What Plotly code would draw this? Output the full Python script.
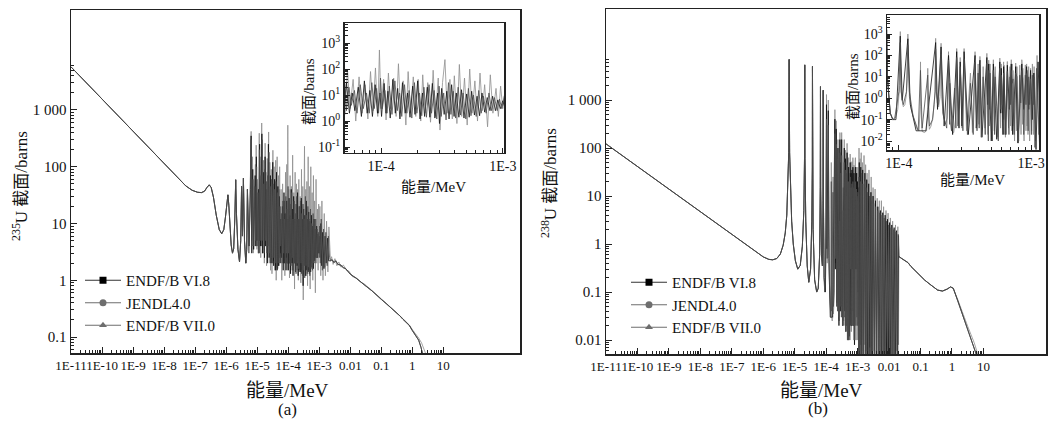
import plotly.graph_objects as go

W, H = 1054, 422
FONT = "Liberation Serif, Noto Sans CJK SC, serif"

# ---------------- data: U-235 (panel a), energy in MeV, cross section in barns
u235_low = [(1e-11, 5750), (2e-11, 3870), (5e-11, 2300), (1e-10, 1550), (2e-10, 1045), (5e-10, 620),
            (1e-9, 417), (2e-9, 281), (5e-9, 167), (1e-8, 112), (2e-8, 76), (5e-8, 46), (8e-8, 38.5),
            (1.2e-7, 35.5), (1.6e-7, 35), (2.0e-7, 37), (2.4e-7, 43), (2.85e-7, 48), (3.3e-7, 43),
            (3.9e-7, 29), (4.8e-7, 14), (6e-7, 7.8), (7.2e-7, 6.6), (8.4e-7, 7.8), (9.5e-7, 13),
            (1.05e-6, 22), (1.14e-6, 32), (1.22e-6, 21), (1.32e-6, 9), (1.45e-6, 4.2), (1.6e-6, 3.0),
            (1.75e-6, 3.6), (1.9e-6, 12), (2.03e-6, 59), (2.15e-6, 15), (2.4e-6, 3.5), (2.7e-6, 2.1),
            (2.95e-6, 5), (3.14e-6, 45), (3.35e-6, 6), (3.6e-6, 63), (3.9e-6, 5), (4.3e-6, 2.0),
            (4.6e-6, 3.5), (4.85e-6, 40), (5.2e-6, 4)]

u235_res_b = [(5.6e-6, 6), (6.2e-6, 90), (6.39e-6, 420), (6.6e-6, 5), (7.08e-6, 150), (7.5e-6, 3), (8.1e-6, 30),
              (8.78e-6, 110), (9.0e-6, 4), (9.28e-6, 240), (9.8e-6, 3.5), (1.02e-5, 60), (1.08e-5, 3),
              (1.166e-5, 390), (1.2e-5, 5), (1.239e-5, 150), (1.3e-5, 2.5), (1.4e-5, 590), (1.48e-5, 3),
              (1.61e-5, 130), (1.7e-5, 2), (1.805e-5, 260), (1.9e-5, 4), (1.93e-5, 80), (2.01e-5, 1.8),
              (2.11e-5, 140), (2.2e-5, 3), (2.34e-5, 410), (2.45e-5, 2), (2.56e-5, 120), (2.7e-5, 1.5),
              (2.84e-5, 90), (3.0e-5, 1.3), (3.21e-5, 195), (3.35e-5, 2.2), (3.52e-5, 100), (3.7e-5, 1.5),
              (3.94e-5, 130), (4.1e-5, 1.0), (4.4e-5, 150), (4.6e-5, 1.6), (4.85e-5, 70), (5.05e-5, 1.8),
              (5.3e-5, 100), (5.55e-5, 3), (5.9e-5, 40), (6.2e-5, 1.0), (6.6e-5, 50), (7.0e-5, 2),
              (7.4e-5, 25), (7.8e-5, 1.2), (8.2e-5, 80), (8.6e-5, 2.5), (9.0e-5, 110), (9.4e-5, 1.5),
              (9.7e-5, 540), (1.0e-4, 3), (1.05e-4, 40), (1.1e-4, 1.1), (1.15e-4, 70), (1.2e-4, 3),
              (1.27e-4, 45), (1.33e-4, 1.5), (1.39e-4, 160), (1.45e-4, 2), (1.52e-4, 35), (1.6e-4, 0.7),
              (1.67e-4, 80), (1.75e-4, 2), (1.84e-4, 50), (1.93e-4, 1.5), (2.02e-4, 40), (2.12e-4, 1),
              (2.2e-4, 60), (2.3e-4, 2), (2.42e-4, 30), (2.55e-4, 0.9), (2.68e-4, 90), (2.8e-4, 1.5),
              (2.95e-4, 45), (3.05e-4, 0.45), (3.2e-4, 30), (3.35e-4, 230), (3.5e-4, 2), (3.68e-4, 40),
              (3.85e-4, 1.2), (4.0e-4, 55), (4.2e-4, 0.8), (4.4e-4, 150), (4.6e-4, 1.5), (4.85e-4, 45),
              (5.1e-4, 0.7), (5.35e-4, 100), (5.6e-4, 2), (5.9e-4, 35), (6.2e-4, 1), (6.5e-4, 70),
              (6.8e-4, 2.5), (7.1e-4, 25), (7.5e-4, 0.6), (7.9e-4, 60), (8.3e-4, 2), (8.8e-4, 18),
              (9.2e-4, 1.5), (9.6e-4, 22), (1.0e-3, 3), (1.05e-3, 20), (1.12e-3, 1.2), (1.22e-3, 25),
              (1.32e-3, 1.0), (1.45e-3, 15), (1.58e-3, 1.2), (1.72e-3, 11), (1.9e-3, 1.4), (2.05e-3, 8.7)]

u235_res_c = [(5.4e-6, 3), (5.9e-6, 25), (6.39e-6, 300), (6.8e-6, 4), (7.3e-6, 60), (7.8e-6, 4), (8.4e-6, 45),
              (9.0e-6, 5), (9.6e-6, 100), (1.0e-5, 4), (1.06e-5, 35), (1.12e-5, 3), (1.18e-5, 200),
              (1.25e-5, 5), (1.33e-5, 70), (1.38e-5, 4), (1.45e-5, 300), (1.53e-5, 5), (1.58e-5, 50),
              (1.66e-5, 3), (1.75e-5, 90), (1.85e-5, 5), (1.98e-5, 55), (2.06e-5, 3), (2.17e-5, 70),
              (2.28e-5, 4), (2.4e-5, 180), (2.5e-5, 3), (2.62e-5, 45), (2.76e-5, 2.5), (2.92e-5, 60),
              (3.1e-5, 2), (3.3e-5, 50), (3.45e-5, 2.5), (3.6e-5, 40), (3.8e-5, 2), (4.0e-5, 55),
              (4.25e-5, 1.7), (4.5e-5, 35), (4.75e-5, 2), (5.0e-5, 40), (5.2e-5, 2.5), (5.45e-5, 20),
              (5.7e-5, 4), (6.05e-5, 15), (6.35e-5, 2), (6.75e-5, 25), (7.15e-5, 3), (7.6e-5, 12),
              (8.0e-5, 2), (8.4e-5, 30), (8.8e-5, 3), (9.2e-5, 18), (9.55e-5, 2), (9.9e-5, 45),
              (1.025e-4, 3), (1.075e-4, 15), (1.12e-4, 2), (1.17e-4, 22), (1.23e-4, 1.8), (1.3e-4, 35),
              (1.36e-4, 2.5), (1.42e-4, 12), (1.48e-4, 1.5), (1.56e-4, 25), (1.63e-4, 2), (1.7e-4, 15),
              (1.79e-4, 1.3), (1.88e-4, 30), (1.97e-4, 2), (2.07e-4, 12), (2.16e-4, 1.6), (2.25e-4, 20),
              (2.36e-4, 1.4), (2.48e-4, 25), (2.6e-4, 2), (2.73e-4, 15), (2.87e-4, 1.2), (3.0e-4, 22),
              (3.12e-4, 1.5), (3.27e-4, 12), (3.42e-4, 1.1), (3.58e-4, 30), (3.75e-4, 1.8), (3.92e-4, 14),
              (4.1e-4, 1.3), (4.3e-4, 20), (4.5e-4, 1.7), (4.72e-4, 12), (4.97e-4, 1.2), (5.22e-4, 18),
              (5.48e-4, 1.6), (5.75e-4, 10), (6.05e-4, 1.5), (6.35e-4, 15), (6.65e-4, 2), (6.95e-4, 9),
              (7.3e-4, 2), (7.7e-4, 12), (8.1e-4, 2.5), (8.55e-4, 8), (9.0e-4, 2.5), (9.4e-4, 7),
              (9.8e-4, 3), (1.03e-3, 9), (1.08e-3, 2), (1.16e-3, 12), (1.26e-3, 1.5), (1.38e-3, 8),
              (1.5e-3, 1.7), (1.64e-3, 7), (1.8e-3, 1.8), (1.97e-3, 6), (2.15e-3, 2.5)]

u235_res_a = [(5.5e-6, 4), (6.1e-6, 40), (6.39e-6, 350), (6.7e-6, 3), (7.2e-6, 90), (7.7e-6, 3.5), (8.6e-6, 70),
              (9.1e-6, 4), (9.4e-6, 150), (9.9e-6, 5), (1.1e-5, 40), (1.15e-5, 3), (1.2e-5, 250),
              (1.27e-5, 4), (1.35e-5, 40), (1.42e-5, 380), (1.5e-5, 3), (1.64e-5, 80), (1.72e-5, 2.5),
              (1.8e-5, 150), (1.88e-5, 4), (2.03e-5, 40), (2.14e-5, 2), (2.3e-5, 250), (2.42e-5, 2.5),
              (2.66e-5, 70), (2.8e-5, 2), (3.0e-5, 40), (3.18e-5, 120), (3.4e-5, 1.8), (3.65e-5, 60),
              (3.88e-5, 1.5), (4.2e-5, 80), (4.4e-5, 1.5), (4.65e-5, 45), (4.9e-5, 1.8), (5.2e-5, 30),
              (5.5e-5, 2), (5.8e-5, 12), (6.1e-5, 2.5), (6.5e-5, 20), (6.9e-5, 1.5), (7.3e-5, 35),
              (7.7e-5, 2), (8.1e-5, 15), (8.5e-5, 1.5), (8.95e-5, 25), (9.35e-5, 2), (9.8e-5, 12),
              (1.01e-4, 1.5), (1.06e-4, 28), (1.1e-4, 2), (1.14e-4, 14), (1.19e-4, 1.3), (1.25e-4, 40),
              (1.31e-4, 2), (1.37e-4, 18), (1.43e-4, 1.2), (1.5e-4, 30), (1.58e-4, 2), (1.65e-4, 12),
              (1.73e-4, 1.4), (1.82e-4, 22), (1.9e-4, 1.8), (2.0e-4, 35), (2.09e-4, 1.2), (2.19e-4, 12),
              (2.28e-4, 1.5), (2.4e-4, 20), (2.52e-4, 1.4), (2.64e-4, 28), (2.77e-4, 1.3), (2.92e-4, 12),
              (3.02e-4, 0.8), (3.15e-4, 18), (3.3e-4, 1.8), (3.47e-4, 14), (3.62e-4, 1.2), (3.8e-4, 25),
              (3.98e-4, 1.5), (4.15e-4, 12), (4.36e-4, 1.4), (4.58e-4, 16), (4.8e-4, 1.3), (5.05e-4, 11),
              (5.3e-4, 1.4), (5.55e-4, 14), (5.85e-4, 1.7), (6.15e-4, 9), (6.45e-4, 1.6), (6.75e-4, 12),
              (7.1e-4, 2.2), (7.45e-4, 8), (7.85e-4, 2.5), (8.25e-4, 9), (8.7e-4, 2.5), (9.1e-4, 6.5),
              (9.55e-4, 3), (1.0e-3, 6), (1.06e-3, 2.5), (1.13e-3, 10), (1.2e-3, 1.8), (1.3e-3, 7),
              (1.42e-3, 1.6), (1.55e-3, 6), (1.68e-3, 2), (1.85e-3, 5.5), (2.0e-3, 2.2)]

u235_tail_a = [(2.3e-3, 2.2), (2.6e-3, 2.3), (3e-3, 2.05), (3.4e-3, 2.2), (4e-3, 1.9), (5e-3, 1.85), (6e-3, 1.65),
               (7e-3, 1.62), (8.5e-3, 1.4), (1e-2, 1.28), (1.5e-2, 1.1), (2e-2, 0.98), (3e-2, 0.81),
               (5e-2, 0.65), (7e-2, 0.54), (1e-1, 0.46), (1.5e-1, 0.38), (2e-1, 0.33), (3e-1, 0.275),
               (4e-1, 0.235), (5e-1, 0.205), (6e-1, 0.185), (8e-1, 0.16), (1.0, 0.13), (1.3, 0.105),
               (1.6, 0.088), (1.9, 0.066), (2.15, 0.05)]
u235_tail_b = [(2.3e-3, 2.2), (2.5e-3, 2.6), (2.8e-3, 1.9), (3.2e-3, 2.4), (3.7e-3, 1.8), (4.3e-3, 2.1),
               (5e-3, 1.7), (6e-3, 1.85), (7.5e-3, 1.5), (9e-3, 1.45), (1.2e-2, 1.15), (1.6e-2, 1.1),
               (2.2e-2, 0.93), (3e-2, 0.84), (5e-2, 0.66), (7e-2, 0.55), (1e-1, 0.47), (1.5e-1, 0.385),
               (2e-1, 0.335), (3e-1, 0.28), (4e-1, 0.24), (5e-1, 0.21), (6e-1, 0.19), (8e-1, 0.163),
               (1.0, 0.135), (1.3, 0.112), (1.6, 0.096), (2.0, 0.078), (2.4, 0.062), (2.8, 0.048)]

# ---------------- data: U-238 (panel b)
u238_low = [(1e-11, 122), (2e-11, 88), (5e-11, 57), (1e-10, 41), (2e-10, 30), (5e-10, 19.5), (1e-9, 14),
            (2e-9, 10), (5e-9, 6.5), (1e-8, 4.7), (2e-8, 3.4), (5e-8, 2.2), (1e-7, 1.6), (2e-7, 1.15),
            (4e-7, 0.82), (7e-7, 0.63), (1e-6, 0.54), (1.5e-6, 0.48), (2e-6, 0.47), (2.7e-6, 0.5),
            (3.5e-6, 0.62), (4.3e-6, 0.95), (5.0e-6, 1.7), (5.6e-6, 4), (6.1e-6, 15), (6.45e-6, 80),
            (6.6e-6, 1200), (6.67e-6, 7000), (6.74e-6, 1200), (6.9e-6, 80), (7.3e-6, 15), (8.0e-6, 3),
            (9.0e-6, 1.0), (1.05e-5, 0.45), (1.25e-5, 0.3), (1.5e-5, 0.36), (1.75e-5, 0.9), (1.95e-5, 5),
            (2.05e-5, 60), (2.087e-5, 5400), (2.12e-5, 60), (2.25e-5, 3), (2.5e-5, 0.35), (2.8e-5, 0.16),
            (3.2e-5, 0.3), (3.5e-5, 3), (3.63e-5, 40), (3.668e-5, 5000), (3.71e-5, 40), (3.85e-5, 2),
            (4.3e-5, 0.18), (5.0e-5, 0.1), (5.6e-5, 0.12), (6.2e-5, 0.6), (6.5e-5, 15), (6.6e-5, 1900),
            (6.7e-5, 15), (7.1e-5, 0.6), (7.6e-5, 0.35), (7.95e-5, 8), (8.07e-5, 1600), (8.2e-5, 8),
            (8.6e-5, 0.2), (9.0e-5, 0.1)]

u238_res_b = [(9.4e-5, 0.12), (9.8e-5, 0.3), (1.0e-4, 1.0), (1.015e-4, 4), (1.022e-4, 30), (1.025e-4, 1300),
              (1.028e-4, 30), (1.035e-4, 4), (1.05e-4, 1.0), (1.08e-4, 0.4), (1.11e-4, 0.5), (1.14e-4, 1.5),
              (1.16e-4, 8), (1.169e-4, 1000), (1.18e-4, 8), (1.2e-4, 1.2), (1.24e-4, 0.3), (1.3e-4, 0.09),
              (1.36e-4, 0.04), (1.42e-4, 0.03), (1.45e-4, 0.4), (1.457e-4, 50), (1.465e-4, 0.4), (1.5e-4, 0.028),
              (1.56e-4, 0.025), (1.62e-4, 0.03), (1.645e-4, 0.3), (1.653e-4, 25), (1.66e-4, 0.3), (1.7e-4, 0.035),
              (1.75e-4, 0.05), (1.8e-4, 0.12), (1.85e-4, 0.5), (1.88e-4, 2.5), (1.897e-4, 630), (1.91e-4, 2.5),
              (1.95e-4, 0.6), (2.0e-4, 0.4), (2.05e-4, 1.2), (2.085e-4, 370), (2.11e-4, 1.0), (2.17e-4, 0.15),
              (2.25e-4, 0.06), (2.32e-4, 0.12), (2.374e-4, 150), (2.42e-4, 0.12), (2.5e-4, 0.03),
              (2.6e-4, 0.025), (2.68e-4, 0.1), (2.737e-4, 210), (2.79e-4, 0.1), (2.82e-4, 0.06), (2.91e-4, 80),
              (3.0e-4, 0.04), (3.114e-4, 210), (3.25e-4, 0.03), (3.478e-4, 15), (3.6e-4, 0.025), (3.769e-4, 150),
              (3.88e-4, 0.05), (3.976e-4, 40), (4.03e-4, 0.06), (4.103e-4, 90), (4.22e-4, 0.02),
              (4.34e-4, 30), (4.48e-4, 0.04), (4.63e-4, 125), (4.72e-4, 0.02), (4.783e-4, 60),
              (4.85e-4, 0.05), (4.895e-4, 40), (5.05e-4, 0.012), (5.184e-4, 63), (5.27e-4, 0.03),
              (5.354e-4, 30), (5.6e-4, 0.015), (5.802e-4, 75), (5.88e-4, 0.04), (5.951e-4, 40),
              (6.1e-4, 0.02), (6.199e-4, 50), (6.22e-4, 0.1), (6.249e-4, 35), (6.4e-4, 0.015),
              (6.613e-4, 52), (6.75e-4, 0.04), (6.931e-4, 30), (7.0e-4, 0.05), (7.084e-4, 63),
              (7.15e-4, 0.03), (7.209e-4, 40), (7.26e-4, 0.05), (7.301e-4, 20), (7.5e-4, 0.01),
              (7.651e-4, 44), (7.74e-4, 0.03), (7.821e-4, 30), (8.0e-4, 0.008), (8.213e-4, 35),
              (8.4e-4, 0.02), (8.51e-4, 63), (8.535e-4, 0.3), (8.561e-4, 40), (8.62e-4, 0.06),
              (8.665e-4, 25), (8.85e-4, 0.01), (9.05e-4, 36), (9.15e-4, 0.03), (9.252e-4, 40),
              (9.31e-4, 0.05), (9.37e-4, 20), (9.48e-4, 0.02), (9.587e-4, 30), (9.75e-4, 0.01),
              (9.917e-4, 25), (1.01e-3, 0.03), (1.0235e-3, 40), (1.04e-3, 0.02), (1.0545e-3, 30),
              (1.08e-3, 0.01), (1.11e-3, 100), (1.14e-3, 0.02), (1.2e-3, 60), (1.25e-3, 0.008),
              (1.3e-3, 80), (1.36e-3, 0.01), (1.42e-3, 50), (1.5e-3, 0.006), (1.6e-3, 70), (1.7e-3, 0.008),
              (1.8e-3, 45), (1.9e-3, 0.006), (2.0e-3, 30), (2.15e-3, 0.005), (2.3e-3, 35), (2.5e-3, 0.007),
              (2.7e-3, 25), (2.9e-3, 0.005), (3.1e-3, 15), (3.35e-3, 0.006), (3.6e-3, 14), (3.9e-3, 0.004),
              (4.2e-3, 9), (4.5e-3, 0.005), (4.9e-3, 8), (5.3e-3, 0.004), (5.7e-3, 8), (6.2e-3, 0.005),
              (6.7e-3, 6), (7.3e-3, 0.004), (8.0e-3, 5), (8.7e-3, 0.006), (9.3e-3, 4.4), (1.0e-2, 0.005),
              (1.1e-2, 3.5), (1.2e-2, 0.004), (1.3e-2, 3), (1.45e-2, 0.005), (1.6e-2, 2.5), (1.75e-2, 0.006),
              (1.9e-2, 2.3), (2.0e-2, 0.008)]

u238_res_c = [(9.3e-5, 0.12), (1.0e-4, 2), (1.023e-4, 400), (1.04e-4, 2), (1.08e-4, 0.5), (1.14e-4, 2),
              (1.168e-4, 300), (1.2e-4, 2), (1.28e-4, 0.15), (1.4e-4, 0.03), (1.456e-4, 20), (1.5e-4, 0.04),
              (1.652e-4, 12), (1.7e-4, 0.05), (1.8e-4, 0.1), (1.88e-4, 2), (1.896e-4, 200), (1.92e-4, 2),
              (1.98e-4, 0.5), (2.084e-4, 120), (2.15e-4, 0.2), (2.3e-4, 0.04), (2.373e-4, 60), (2.42e-4, 0.06),
              (2.427e-4, 5), (2.5e-4, 0.03), (2.639e-4, 3), (2.7e-4, 0.04), (2.736e-4, 80), (2.8e-4, 0.05),
              (2.91e-4, 30), (3.05e-4, 0.03), (3.113e-4, 70), (3.3e-4, 0.02), (3.477e-4, 5), (3.65e-4, 0.02),
              (3.768e-4, 50), (3.9e-4, 0.03), (3.975e-4, 15), (4.05e-4, 0.04), (4.102e-4, 35), (4.2e-4, 0.015),
              (4.339e-4, 10), (4.5e-4, 0.02), (4.629e-4, 45), (4.75e-4, 0.01), (4.782e-4, 20), (4.86e-4, 0.3),
              (4.894e-4, 15), (5.1e-4, 0.01), (5.183e-4, 20), (5.3e-4, 0.02), (5.353e-4, 10), (5.5e-4, 0.4),
              (5.65e-4, 0.01), (5.801e-4, 25), (5.9e-4, 0.3), (5.95e-4, 12), (6.05e-4, 0.5), (6.198e-4, 15),
              (6.248e-4, 10), (6.35e-4, 0.02), (6.5e-4, 1.0), (6.612e-4, 18), (6.653e-4, 2), (6.8e-4, 0.02),
              (6.93e-4, 10), (7.0e-4, 0.5), (7.083e-4, 20), (7.2e-4, 5), (7.3e-4, 8), (7.45e-4, 0.02),
              (7.55e-4, 0.8), (7.65e-4, 15), (7.82e-4, 10), (7.9e-4, 0.5), (8.05e-4, 0.01), (8.212e-4, 12),
              (8.35e-4, 0.6), (8.51e-4, 20), (8.56e-4, 12), (8.66e-4, 8), (8.8e-4, 0.02), (8.95e-4, 1),
              (9.05e-4, 12), (9.15e-4, 0.5), (9.25e-4, 14), (9.37e-4, 6), (9.5e-4, 0.03), (9.6e-4, 10),
              (9.75e-4, 0.5), (9.9e-4, 8), (1.005e-3, 0.02), (1.023e-3, 12), (1.04e-3, 0.5), (1.054e-3, 10),
              (1.07e-3, 0.005), (1.1e-3, 25), (1.16e-3, 0.006), (1.23e-3, 20), (1.28e-3, 0.004), (1.34e-3, 30),
              (1.4e-3, 0.005), (1.47e-3, 18), (1.55e-3, 0.004), (1.65e-3, 20), (1.75e-3, 0.003), (1.85e-3, 15),
              (1.95e-3, 0.004), (2.08e-3, 12), (2.2e-3, 0.003), (2.4e-3, 10), (2.6e-3, 0.004), (2.8e-3, 8),
              (3.0e-3, 0.003), (3.25e-3, 7), (3.5e-3, 0.004), (3.75e-3, 6), (4.05e-3, 0.003), (4.35e-3, 5),
              (4.7e-3, 0.004), (5.1e-3, 4.5), (5.5e-3, 0.003), (5.95e-3, 4), (6.45e-3, 0.004), (7.0e-3, 3.5),
              (7.6e-3, 0.003), (8.3e-3, 3), (9.0e-3, 0.004), (9.7e-3, 2.5), (1.05e-2, 0.003), (1.15e-2, 2.2),
              (1.25e-2, 0.004), (1.38e-2, 2), (1.5e-2, 0.003), (1.65e-2, 1.8), (1.8e-2, 0.004), (1.95e-2, 1.6)]

u238_res_a = [(9.5e-5, 0.1), (1.024e-4, 800), (1.06e-4, 0.8), (1.169e-4, 600), (1.22e-4, 0.5), (1.35e-4, 0.03),
              (1.6e-4, 0.03), (1.897e-4, 400), (1.96e-4, 0.3), (2.085e-4, 250), (2.2e-4, 0.05), (2.374e-4, 100),
              (2.55e-4, 0.02), (2.737e-4, 150), (2.85e-4, 0.04), (2.91e-4, 50), (3.0e-4, 0.05), (3.114e-4, 150),
              (3.35e-4, 0.02), (3.769e-4, 100), (3.85e-4, 0.04), (4.103e-4, 60), (4.25e-4, 0.015), (4.63e-4, 80),
              (4.7e-4, 0.5), (4.783e-4, 40), (4.9e-4, 0.5), (5.0e-4, 0.01), (5.184e-4, 40), (5.5e-4, 0.012),
              (5.802e-4, 50), (5.9e-4, 0.2), (5.951e-4, 25), (6.15e-4, 0.02), (6.199e-4, 30), (6.45e-4, 0.02),
              (6.613e-4, 35), (6.85e-4, 0.3), (7.084e-4, 40), (7.25e-4, 0.02), (7.651e-4, 30), (7.95e-4, 0.008),
              (8.51e-4, 40), (8.8e-4, 0.3), (9.252e-4, 30), (9.6e-4, 0.3), (9.917e-4, 20), (1.02e-3, 0.1),
              (1.05e-3, 15), (1.09e-3, 0.004), (1.13e-3, 50), (1.18e-3, 0.005), (1.26e-3, 40), (1.32e-3, 0.004),
              (1.45e-3, 35), (1.52e-3, 0.005), (1.7e-3, 30), (1.78e-3, 0.003), (1.95e-3, 22), (2.05e-3, 0.004),
              (2.25e-3, 18), (2.45e-3, 0.003), (2.65e-3, 12), (2.85e-3, 0.004), (3.1e-3, 10), (3.4e-3, 0.003),
              (3.7e-3, 8), (4.0e-3, 0.003), (4.4e-3, 6), (4.8e-3, 0.004), (5.3e-3, 5), (5.8e-3, 0.003),
              (6.3e-3, 4.5), (6.9e-3, 0.004), (7.5e-3, 4), (8.2e-3, 0.003), (8.9e-3, 3.3), (9.6e-3, 0.004),
              (1.04e-2, 2.8), (1.13e-2, 0.003), (1.22e-2, 2.5), (1.33e-2, 0.004), (1.45e-2, 2.2),
              (1.58e-2, 0.003), (1.72e-2, 1.9), (1.88e-2, 0.004), (2.0e-2, 1.5)]

u238_tail_a = [(2.05e-2, 0.55), (2.5e-2, 0.5), (3e-2, 0.46), (4e-2, 0.41), (5e-2, 0.34), (7e-2, 0.27),
               (1e-1, 0.21), (1.35e-1, 0.178), (2e-1, 0.145), (3e-1, 0.12), (3.5e-1, 0.11), (5e-1, 0.105),
               (7e-1, 0.115), (9e-1, 0.128), (1.1, 0.12), (1.5, 0.068), (2.0, 0.04), (3.2, 0.016),
               (5.1, 0.0072), (6.3, 0.0045)]
u238_tail_b = [(2.05e-2, 0.55), (2.5e-2, 0.5), (3e-2, 0.46), (4e-2, 0.41), (5e-2, 0.34), (7e-2, 0.27),
               (1e-1, 0.21), (1.35e-1, 0.178), (2e-1, 0.145), (3e-1, 0.12), (3.5e-1, 0.11), (5e-1, 0.105),
               (7e-1, 0.115), (9e-1, 0.128), (1.1, 0.12), (1.5, 0.072), (2.0, 0.045), (3.2, 0.019),
               (5.1, 0.0088), (7.0, 0.0045)]

series_names = ["ENDF/B VI.8", "JENDL4.0", "ENDF/B VII.0"]
series_colors = ["#111111", "#8e8e8e", "#4d4d4d"]
series_symbols = ["square", "circle", "triangle-up"]

main_xticks = [1e-11, 1e-10, 1e-9, 1e-8, 1e-7, 1e-6, 1e-5, 1e-4, 1e-3, 1e-2, 1e-1, 1, 10]
main_xtext = ["1E-11", "1E-10", "1E-9", "1E-8", "1E-7", "1E-6", "1E-5", "1E-4", "1E-3", "0.01", "0.1", "1", "10"]
left_yticks = [0.1, 1, 10, 100, 1000]
left_ytext = ["0.1", "1", "10", "100", "1 000"]
right_yticks = [0.01, 0.1, 1, 10, 100, 1000]
right_ytext = ["0.01", "0.1", "1", "10", "100", "1 000"]
inset_xticks = [1e-4, 1e-3]
inset_xtext = ["1E-4", "1E-3"]
inset_l_yticks = [0.1, 1, 10, 100, 1000]
inset_l_ytext = ["10<sup>-1</sup>", "10<sup>0</sup>", "10<sup>1</sup>", "10<sup>2</sup>", "10<sup>3</sup>"]
inset_r_yticks = [0.01, 0.1, 1, 10, 100, 1000]
inset_r_ytext = ["10<sup>-2</sup>", "10<sup>-1</sup>", "10<sup>0</sup>", "10<sup>1</sup>", "10<sup>2</sup>", "10<sup>3</sup>"]


def unzip(pairs):
    return [p[0] for p in pairs], [p[1] for p in pairs]


def minor(lo, hi):
    vals = []
    for k in range(-13, 5):
        for m in range(2, 10):
            v = m * 10.0 ** k
            if lo <= v <= hi:
                vals.append(v)
    return vals


def px_x(a, b):
    return [a / W, b / W]


def px_y(top, bottom):
    return [(H - bottom) / H, (H - top) / H]


fig = go.Figure()

panels = {
    "a": dict(low=u235_low, res=[u235_res_a, u235_res_b, u235_res_c],
              tail=[u235_tail_a, u235_tail_b, u235_tail_a], main=("x", "y"), inset=("x3", "y3")),
    "b": dict(low=u238_low, res=[u238_res_a, u238_res_b, u238_res_c],
              tail=[u238_tail_a, u238_tail_b, u238_tail_a], main=("x2", "y2"), inset=("x4", "y4")),
}
draw_order = [1, 0, 2]
for key, p in panels.items():
    for ax in (p["main"], p["inset"]):
        for i in draw_order:
            e, s = unzip(p["low"] + p["res"][i] + p["tail"][i])
            fig.add_trace(go.Scatter(x=e, y=s, mode="lines", xaxis=ax[0], yaxis=ax[1],
                                     line=dict(color=series_colors[i], width=0.8),
                                     showlegend=False, hoverinfo="skip"))

for leg in ("legend", "legend2"):
    for i in range(3):
        fig.add_trace(go.Scatter(x=[None], y=[None], mode="lines+markers", name=series_names[i],
                                 legend=leg, xaxis="x", yaxis="y",
                                 line=dict(color="#333333" if i == 0 else "#6e6e6e", width=1.2),
                                 marker=dict(symbol=series_symbols[i], size=7,
                                             color="#000000" if i == 0 else "#6e6e6e")))

LINE = "#222222"


def axis(domain, rng, tv, tt, mn, anchor, size, tlen=6, mlen=3):
    return dict(type="log", domain=domain, range=rng, anchor=anchor, tickmode="array",
                tickvals=tv, ticktext=tt, ticks="inside", ticklen=tlen, tickwidth=1, tickcolor=LINE,
                minor=dict(tickmode="array", tickvals=mn, ticks="inside", ticklen=mlen,
                           tickwidth=1, tickcolor=LINE),
                showline=True, linecolor=LINE, linewidth=1.5, mirror=True, showgrid=False,
                zeroline=False, tickangle=0, automargin=False,
                tickfont=dict(family=FONT, size=size, color="#111"))


fig.update_layout(
    width=W, height=H, margin=dict(l=0, r=0, t=0, b=0, autoexpand=False),
    paper_bgcolor="white", plot_bgcolor="white",
    font=dict(family=FONT, color="#111"),
    xaxis=axis(px_x(71, 520), [-11, 3.47], main_xticks, main_xtext, minor(1.5e-11, 9.5), "y", 13),
    yaxis=axis(px_y(10, 353), [-1.282, 4.762], left_yticks, left_ytext, minor(0.055, 6100), "x", 15),
    xaxis2=axis(px_x(606, 1046), [-11, 2.99], main_xticks, main_xtext, minor(1.5e-11, 9.5), "y2", 13),
    yaxis2=axis(px_y(9, 354), [-2.29, 4.896], right_yticks, right_ytext, minor(0.0052, 7100), "x2", 15),
    xaxis3=axis(px_x(344.5, 504), [-4.3, -2.99], inset_xticks, inset_xtext, minor(5.1e-5, 9.5e-4), "y3", 14, 5, 3),
    yaxis3=axis(px_y(23, 152.5), [-1.21, 3.77], inset_l_yticks, inset_l_ytext, minor(0.06, 5500), "x3", 14, 5, 3),
    xaxis4=axis(px_x(887, 1039), [-4.09, -2.94], inset_xticks, inset_xtext, minor(8.2e-5, 9.5e-4), "y4", 14, 5, 3),
    yaxis4=axis(px_y(15, 150), [-2.42, 3.89], inset_r_yticks, inset_r_ytext, minor(0.004, 7000), "x4", 14, 5, 3),
    legend=dict(x=80 / W, y=(H - 264) / H, xanchor="left", yanchor="top", bgcolor="rgba(0,0,0,0)",
                font=dict(family=FONT, size=15, color="#111"), itemwidth=36, tracegroupgap=0),
    legend2=dict(x=626 / W, y=(H - 266) / H, xanchor="left", yanchor="top", bgcolor="rgba(0,0,0,0)",
                 font=dict(family=FONT, size=15, color="#111"), itemwidth=36, tracegroupgap=0),
)

ann = [
    ("能量/MeV", 287, 390, 19, 0), ("(a)", 287, 409, 17, 0),
    ("能量/MeV", 821, 390, 19, 0), ("(b)", 818, 408, 17, 0),
    ("<sup>235</sup>U 截面/barns", 20, 186, 17, -90), ("<sup>238</sup>U 截面/barns", 549, 183, 17, -90),
    ("截面/barns", 309, 92, 15, -90), ("能量/MeV", 433, 187, 15, 0),
    ("截面/barns", 853, 87, 15, -90), ("能量/MeV", 972, 180, 15, 0),
]
for text, x, y, size, ang in ann:
    fig.add_annotation(text=text, x=x / W, y=(H - y) / H, xref="paper", yref="paper", showarrow=False,
                       textangle=ang, xanchor="center", yanchor="middle",
                       font=dict(family=FONT, size=size, color="#111"))

fig.write_html("out.html", config={"displayModeBar": False, "staticPlot": True},
               post_script="document.body.style.margin='0';document.body.style.overflow='hidden';")
